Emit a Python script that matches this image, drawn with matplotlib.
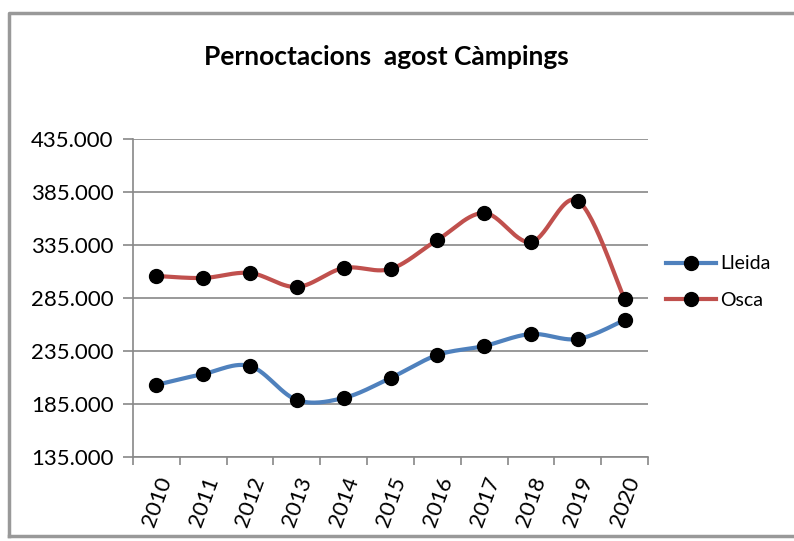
import numpy as np
import matplotlib.pyplot as plt
from matplotlib.ticker import FuncFormatter

years = ['2010', '2011', '2012', '2013', '2014', '2015', '2016', '2017', '2018', '2019', '2020']
lleida = [203000, 213300, 220800, 188800, 190700, 209500, 231200, 239700, 251000, 246300, 264200]
osca = [305800, 303900, 308600, 295400, 313300, 312400, 339700, 365200, 337800, 376800, 284000]
yticks = [135000, 185000, 235000, 285000, 335000, 385000, 435000]


def smooth(x, y, n=30):
    # excel-like smoothed line (cardinal bezier between points)
    x = np.asarray(x, float)
    y = np.asarray(y, float)
    px, py = [], []
    for i in range(len(x) - 1):
        i0 = max(i - 1, 0)
        i3 = min(i + 2, len(x) - 1)
        c1x = x[i] + (x[i + 1] - x[i0]) / 6
        c1y = y[i] + (y[i + 1] - y[i0]) / 6
        c2x = x[i + 1] - (x[i3] - x[i]) / 6
        c2y = y[i + 1] - (y[i3] - y[i]) / 6
        t = np.linspace(0, 1, n)
        bx = (1 - t)**3 * x[i] + 3 * (1 - t)**2 * t * c1x + 3 * (1 - t) * t**2 * c2x + t**3 * x[i + 1]
        by = (1 - t)**3 * y[i] + 3 * (1 - t)**2 * t * c1y + 3 * (1 - t) * t**2 * c2y + t**3 * y[i + 1]
        px.extend(bx)
        py.extend(by)
    return px, py


plt.rcParams['font.family'] = ['Lato', 'DejaVu Sans']

fig = plt.figure(figsize=(7.94, 5.41), dpi=100)
ax = fig.add_axes([133 / 794, 84 / 541, 515 / 794, 318 / 541])

x = np.arange(len(years))
for vals, col, lab in [(lleida, '#4F81BD', 'Lleida'), (osca, '#C0504D', 'Osca')]:
    sx, sy = smooth(x, vals)
    ax.plot(sx, sy, color=col, lw=3, solid_capstyle='round', zorder=2)
    ax.plot(x, vals, 'o', color='black', ms=10, zorder=3)
    ax.plot([], [], color=col, lw=3, marker='o', mfc='black', mec='black', ms=10, label=lab)

ax.set_xlim(-0.5, len(years) - 0.5)
ax.set_ylim(yticks[0], yticks[-1])
ax.set_yticks(yticks)
ax.yaxis.set_major_formatter(FuncFormatter(lambda v, p: f'{int(v):,}'.replace(',', '.')))
ax.set_xticks(x)
ax.set_xticklabels(years, rotation=70, ha='right', va='top', rotation_mode='anchor')
ax.set_xticks(np.arange(-0.5, len(years)), minor=True)
ax.tick_params(axis='x', which='major', length=0, pad=12, labelsize=16)
ax.tick_params(axis='x', which='minor', length=6, color='#888888', width=1.2)
ax.tick_params(axis='y', length=7, color='#888888', width=1.2, labelsize=16, pad=7)
ax.grid(axis='y', color='#888888', lw=1.2)
ax.set_axisbelow(True)
for s in ['top', 'right']:
    ax.spines[s].set_visible(False)
for s in ['left', 'bottom']:
    ax.spines[s].set_color('#888888')
    ax.spines[s].set_linewidth(1.2)

ax.legend(loc='center left', bbox_to_anchor=(1.0, 0.55), frameon=False, fontsize=14,
          handlelength=2.6, labelspacing=1.0, handletextpad=0.2)

fig.text(0.487, 0.895, 'Pernoctacions  agost Càmpings', ha='center', va='center',
         fontsize=19, fontweight='bold')

fig.add_artist(plt.Line2D([9 / 794, 9 / 794, 1.0], [5 / 541, 528 / 541, 528 / 541],
                          color='#999999', lw=2.5, transform=fig.transFigure))
fig.add_artist(plt.Line2D([9 / 794, 1.0], [5 / 541, 5 / 541],
                          color='#999999', lw=2.5, transform=fig.transFigure))

fig.savefig('out.png', dpi=100)
